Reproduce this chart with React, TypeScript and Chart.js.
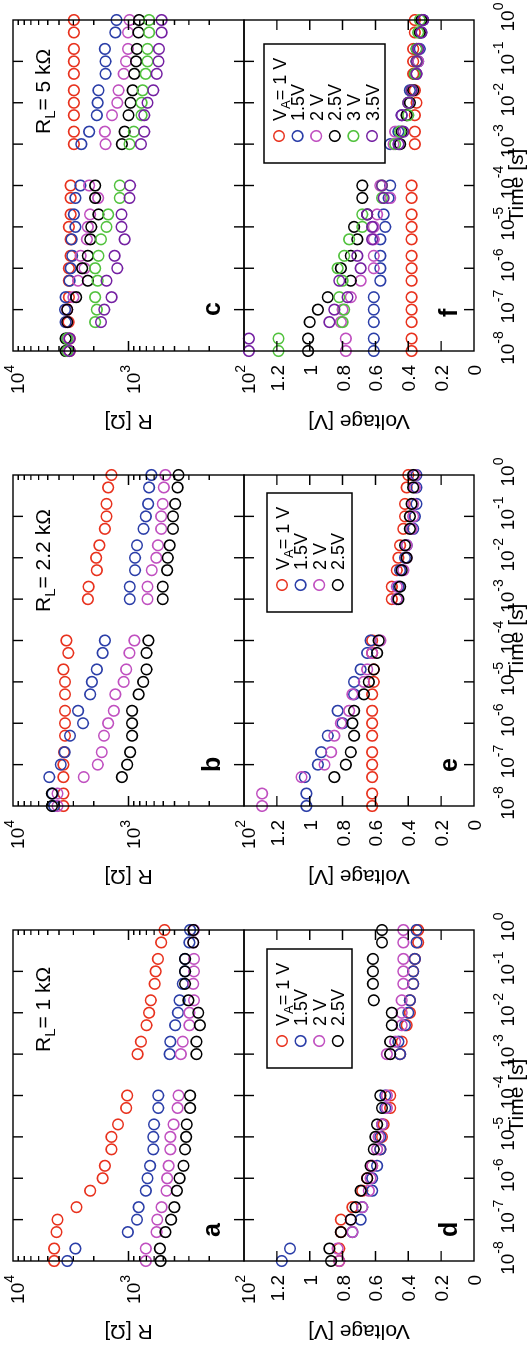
import React, { useEffect, useRef } from 'react';
import { Chart, registerables } from 'chart.js';

Chart.register(...registerables);

// ---------------- data ----------------
const TIMES = [
  1e-8, 2e-8, 5e-8, 1e-7, 2e-7, 5e-7, 1e-6, 2e-6, 5e-6, 1e-5, 2e-5, 5e-5, 1e-4,
  1e-3, 2e-3, 5e-3, 1e-2, 2e-2, 5e-2, 0.1, 0.2, 0.5, 1,
];
const TIME_TICK_EXPONENTS = [-8, -7, -6, -5, -4, -3, -2, -1, 0];
const R_TICK_EXPONENTS = [4, 3, 2];
const V_TICK_VALUES = [0, 0.2, 0.4, 0.6, 0.8, 1, 1.2];
const V_TICK_LABELS = ['0', '0.2', '0.4', '0.6', '0.8', '1', '1.2'];
const LEGEND_LABELS = ['1 V', '1.5V', '2 V', '2.5V', '3 V', '3.5V'];
const COLORS = ['#e8321e', '#2b3ea8', '#c050c0', '#000000', '#52c23e', '#7420a2'];

// panel a: R_L = 1 kOhm, resistance [Ohm]
const A_R_1V = [4400, 4400, 4200, 4120, 2820, 2145, 1675, 1600, 1405, 1405, 1233, 1047, 1026, 834, 780, 698, 663, 641, 593, 582, 556, 521, 488];
const A_R_15V = [3390, 2880, 1013, 844, 817, 708, 685, 650, 610, 610, 601, 552, 552, 440, 434, 394, 373, 361, 339, 324, 324, 297, 293];
const A_R_2V = [708, 708, 571, 564, 517, 469, 463, 449, 434, 434, 407, 376, 369, 352, 339, 297, 297, 271, 275, 271, 271, 275, 271];
const A_R_25V = [527, 535, 479, 428, 401, 381, 361, 334, 324, 317, 313, 293, 293, 258, 258, 241, 249, 303, 324, 324, 324, 275, 275];

// panel b: R_L = 2.2 kOhm
const B_R_1V = [3660, 3660, 3660, 3660, 3610, 3545, 3545, 3545, 3545, 3545, 3660, 3320, 3450, 2245, 2215, 1880, 1905, 1785, 1600, 1550, 1550, 1500, 1405];
const B_R_15V = [4400, 4540, 4850, 3860, 3570, 3210, 2475, 2730, 2145, 2075, 1880, 1675, 1600, 975, 975, 878, 878, 844, 741, 708, 676, 663, 633];
const B_R_2V = [4120, 4120, 2440, 1845, 1705, 1630, 1500, 1340, 1300, 1100, 1047, 981, 889, 685, 685, 629, 574, 556, 521, 521, 505, 494, 479];
const B_R_25V = [4600, 4600, 1140, 1026, 968, 931, 931, 931, 817, 746, 698, 698, 672, 505, 505, 463, 457, 440, 412, 412, 394, 376, 369];

// panel c: R_L = 5 kOhm
const C_R_1V = [3236, 3236, 3300, 3390, 3280, 3280, 3280, 3170, 3170, 3280, 3170, 3170, 3170, 2970, 2970, 2970, 2970, 2970, 2970, 2970, 2970, 2970, 2970];
const C_R_15V = [3390, 3390, 3500, 3540, 3500, 3236, 3170, 3070, 3110, 2880, 2970, 2880, 2610, 2560, 2190, 1880, 1850, 1820, 1580, 1580, 1600, 1300, 1270];
const C_R_2V = [3280, 3280, 3390, 3390, 3000, 2730, 2400, 2600, 2290, 2250, 2150, 1830, 2190, 1580, 1600, 1390, 1250, 1220, 1100, 1050, 1010, 1010, 980];
const C_R_25V = [3500, 3500, 3390, 3390, 2840, 2250, 2520, 2250, 2140, 2100, 1820, 1945, 1945, 1140, 1080, 1000, 960, 920, 890, 860, 845, 820, 810];
const C_R_3V = [3390, 3390, 1945, 1880, 1945, 1850, 1945, 1820, 1730, 1550, 1500, 1190, 1190, 980, 900, 770, 770, 755, 710, 685, 685, 663, 663];
const C_R_35V = [3236, 3236, 1730, 1620, 1400, 1550, 1250, 1320, 1080, 1150, 1150, 980, 970, 780, 730, 730, 685, 610, 570, 550, 545, 517, 517];

// panel d: voltage [V], R_L = 1 kOhm
const D_V_1V = [0.82, 0.82, 0.81, 0.81, 0.74, 0.68, 0.65, 0.62, 0.57, 0.56, 0.55, 0.51, 0.51, 0.45, 0.44, 0.41, 0.39, 0.39, 0.37, 0.37, 0.36, 0.34, 0.34];
const D_V_15V = [1.17, 1.12, 0.74, 0.69, 0.68, 0.62, 0.62, 0.59, 0.57, 0.57, 0.56, 0.54, 0.54, 0.45, 0.46, 0.42, 0.40, 0.39, 0.37, 0.37, 0.36, 0.35, 0.35];
const D_V_2V = [0.82, 0.83, 0.74, 0.75, 0.68, 0.64, 0.63, 0.62, 0.59, 0.58, 0.56, 0.53, 0.53, 0.53, 0.48, 0.44, 0.44, 0.44, 0.43, 0.43, 0.43, 0.43, 0.43];
const D_V_25V = [0.87, 0.88, 0.81, 0.75, 0.72, 0.69, 0.65, 0.63, 0.61, 0.60, 0.59, 0.56, 0.57, 0.51, 0.51, 0.50, 0.50, 0.61, 0.615, 0.615, 0.615, 0.56, 0.56];

// panel e: voltage [V], R_L = 2.2 kOhm
const E_V_1V = [0.62, 0.62, 0.62, 0.62, 0.62, 0.62, 0.62, 0.62, 0.62, 0.61, 0.61, 0.62, 0.62, 0.50, 0.50, 0.47, 0.46, 0.45, 0.43, 0.42, 0.42, 0.41, 0.40];
const E_V_15V = [1.02, 1.02, 1.03, 0.95, 0.93, 0.89, 0.80, 0.83, 0.73, 0.73, 0.69, 0.65, 0.63, 0.47, 0.46, 0.45, 0.42, 0.41, 0.37, 0.36, 0.35, 0.35, 0.35];
const E_V_2V = [1.29, 1.29, 1.05, 0.91, 0.87, 0.85, 0.81, 0.76, 0.74, 0.67, 0.65, 0.62, 0.57, 0.47, 0.47, 0.43, 0.41, 0.41, 0.38, 0.37, 0.37, 0.36, 0.36];
const E_V_25V = [null, null, 0.85, 0.78, 0.75, 0.73, 0.74, 0.73, 0.67, 0.64, 0.61, 0.59, 0.58, 0.46, 0.45, 0.44, 0.41, 0.42, 0.39, 0.39, 0.38, 0.37, 0.37];

// panel f: voltage [V], R_L = 5 kOhm
const F_V_1V = [0.38, 0.38, 0.38, 0.38, 0.38, 0.38, 0.38, 0.38, 0.38, 0.38, 0.38, 0.38, 0.38, 0.36, 0.36, 0.36, 0.35, 0.36, 0.37, 0.37, 0.37, 0.36, 0.36];
const F_V_15V = [0.61, 0.61, 0.61, 0.61, 0.61, 0.57, 0.57, 0.57, 0.57, 0.54, 0.55, 0.52, 0.51, 0.51, 0.46, 0.44, 0.40, 0.39, 0.35, 0.34, 0.33, 0.32, 0.31];
const F_V_2V = [0.78, 0.78, 0.81, 0.80, 0.75, 0.69, 0.61, 0.61, 0.61, 0.61, 0.59, 0.51, 0.57, 0.49, 0.48, 0.41, 0.40, 0.37, 0.35, 0.34, 0.34, 0.33, 0.32];
const F_V_25V = [1.01, 1.01, 1.00, 0.95, 0.89, 0.75, 0.81, 0.75, 0.71, 0.73, 0.65, 0.68, 0.68, 0.45, 0.44, 0.41, 0.39, 0.37, 0.36, 0.35, 0.35, 0.33, 0.32];
const F_V_3V = [1.19, 1.19, 0.80, 0.79, 0.82, 0.80, 0.83, 0.79, 0.76, 0.68, 0.68, 0.56, 0.56, 0.48, 0.45, 0.40, 0.40, 0.38, 0.36, 0.35, 0.35, 0.34, 0.33];
const F_V_35V = [1.37, 1.37, 0.88, 0.85, 0.77, 0.82, 0.69, 0.71, 0.62, 0.62, 0.65, 0.55, 0.56, 0.46, 0.43, 0.44, 0.40, 0.38, 0.35, 0.35, 0.34, 0.32, 0.31];

const LOAD_LABELS = ['1', '2.2', '5'];

// ---------------- layout (un-rotated figure, 1345 x 532) ----------------
const FIG_W = 1345;
const FIG_H = 532;
const COL_LEFT = [84, 539, 994];
const COL_W = 331;
const R_TOP = 13;
const MID = 244;
const V_BOTTOM = 474;
const FONT = '"Liberation Sans", Arial, Helvetica, sans-serif';

type Kind = 'R' | 'V';
interface Panel {
  key: string;
  kind: Kind;
  col: number;
  series: (number | null)[][];
  letterX: number;
  noteX?: number;
  legendBox?: [number, number, number, number];
}

const PANELS: Panel[] = [
  { key: 'a', kind: 'R', col: 0, series: [A_R_1V, A_R_15V, A_R_2V, A_R_25V], letterX: 108, noteX: 293 },
  { key: 'b', kind: 'R', col: 1, series: [B_R_1V, B_R_15V, B_R_2V, B_R_25V], letterX: 573, noteX: 733 },
  { key: 'c', kind: 'R', col: 2, series: [C_R_1V, C_R_15V, C_R_2V, C_R_25V, C_R_3V, C_R_35V], letterX: 1029, noteX: 1211 },
  { key: 'd', kind: 'V', col: 0, series: [D_V_1V, D_V_15V, D_V_2V, D_V_25V], letterX: 108, legendBox: [277, 267, 396, 352] },
  { key: 'e', kind: 'V', col: 1, series: [E_V_1V, E_V_15V, E_V_2V, E_V_25V], letterX: 573, legendBox: [733, 267, 852, 352] },
  { key: 'f', kind: 'V', col: 2, series: [F_V_1V, F_V_15V, F_V_2V, F_V_25V, F_V_3V, F_V_35V], letterX: 1028, legendBox: [1182, 264, 1301, 385] },
];

type Seg = { t: string; s?: 'sup' | 'sub' };

function drawRich(
  ctx: CanvasRenderingContext2D,
  segs: Seg[],
  x: number,
  y: number,
  align: 'left' | 'center' | 'right',
  size: number,
  small: number,
  supRaise: number,
  subDrop: number,
  bold = false,
) {
  const fontOf = (s: Seg) => `${bold ? 'bold ' : ''}${s.s ? small : size}px ${FONT}`;
  let total = 0;
  const widths = segs.map((s) => {
    ctx.font = fontOf(s);
    const w = ctx.measureText(s.t).width;
    total += w;
    return w;
  });
  let cx = align === 'left' ? x : align === 'right' ? x - total : x - total / 2;
  ctx.textAlign = 'left';
  ctx.textBaseline = 'alphabetic';
  segs.forEach((s, i) => {
    ctx.font = fontOf(s);
    const dy = s.s === 'sup' ? -supRaise : s.s === 'sub' ? subDrop : 0;
    ctx.fillText(s.t, cx, y + dy);
    cx += widths[i];
  });
}

const MAJOR = 10;
const MINOR = 5;
const TICK_FONT = 19;
const TICK_SMALL = 14;

function makeDecor(p: Panel) {
  return {
    id: 'decor',
    afterDatasetsDraw(chart: any) {
      const ctx: CanvasRenderingContext2D = chart.ctx;
      const { left, right, top, bottom } = chart.chartArea;
      const xs = chart.scales.x;
      const ys = chart.scales.y;
      ctx.save();
      ctx.strokeStyle = '#000';
      ctx.fillStyle = '#000';
      ctx.lineWidth = 1.4;
      ctx.beginPath();
      for (const e of TIME_TICK_EXPONENTS) {
        const px = xs.getPixelForValue(Math.pow(10, e));
        if (px <= left + 1 || px >= right - 1) continue;
        ctx.moveTo(px, top);
        ctx.lineTo(px, top + MAJOR);
        ctx.moveTo(px, bottom);
        ctx.lineTo(px, bottom - MAJOR);
      }
      if (p.kind === 'R') {
        for (let d = 2; d <= 3; d++) {
          for (let m = 1; m <= 9; m++) {
            const v = m * Math.pow(10, d);
            const py = ys.getPixelForValue(v);
            if (py <= top + 1 || py >= bottom - 1) continue;
            const len = m === 1 ? MAJOR : MINOR;
            ctx.moveTo(left, py);
            ctx.lineTo(left + len, py);
            ctx.moveTo(right, py);
            ctx.lineTo(right - len, py);
          }
        }
      } else {
        for (const v of V_TICK_VALUES) {
          const py = ys.getPixelForValue(v);
          if (py <= top + 1 || py >= bottom - 1) continue;
          ctx.moveTo(left, py);
          ctx.lineTo(left + MAJOR, py);
          ctx.moveTo(right, py);
          ctx.lineTo(right - MAJOR, py);
        }
      }
      ctx.stroke();
      ctx.strokeRect(left, top, right - left, bottom - top);

      // y tick labels
      const labX = left - 14;
      if (p.kind === 'R') {
        for (const e of R_TICK_EXPONENTS) {
          const py = ys.getPixelForValue(Math.pow(10, e));
          drawRich(ctx, [{ t: '10' }, { t: String(e), s: 'sup' }], labX, py + 11, 'right', TICK_FONT, TICK_SMALL, 10, 0);
        }
      } else {
        V_TICK_VALUES.forEach((v, i) => {
          const py = ys.getPixelForValue(v);
          drawRich(ctx, [{ t: V_TICK_LABELS[i] }], labX, py + 7, 'right', TICK_FONT, TICK_SMALL, 0, 0);
        });
        // time tick labels
        for (const e of TIME_TICK_EXPONENTS) {
          const px = xs.getPixelForValue(Math.pow(10, e));
          drawRich(ctx, [{ t: '10' }, { t: String(e), s: 'sup' }], px + 3, 514, 'center', TICK_FONT, TICK_SMALL, 11, 0);
        }
        ctx.font = `21px ${FONT}`;
        ctx.textAlign = 'center';
        ctx.textBaseline = 'alphabetic';
        ctx.fillText('Time [s]', (left + right) / 2, 523);
      }

      // y axis title (rotated)
      ctx.save();
      ctx.translate(left - 64, (top + bottom) / 2);
      ctx.rotate(-Math.PI / 2);
      ctx.font = `21px ${FONT}`;
      ctx.textAlign = 'center';
      ctx.textBaseline = 'alphabetic';
      ctx.fillText(p.kind === 'R' ? 'R [\u03A9]' : 'Voltage [V]', 0, 0);
      ctx.restore();

      // panel letter
      ctx.font = `bold 25px ${FONT}`;
      ctx.textAlign = 'left';
      ctx.fillText(p.key, p.letterX, p.kind === 'R' ? 220 : 457);

      // load resistance note
      if (p.noteX !== undefined) {
        drawRich(
          ctx,
          [{ t: 'R' }, { t: 'L', s: 'sub' }, { t: '= ' + LOAD_LABELS[p.col] + ' k\u03A9' }],
          p.noteX, 50, 'left', 21, 15, 0, 5,
        );
      }

      // legend
      if (p.legendBox) {
        const [x0, y0, x1, y1] = p.legendBox;
        ctx.lineWidth = 1.5;
        ctx.strokeRect(x0, y0, x1 - x0, y1 - y0);
        p.series.forEach((_, i) => {
          const ry = y0 + 15 + i * 18.6;
          ctx.beginPath();
          ctx.strokeStyle = COLORS[i];
          ctx.lineWidth = 1.6;
          ctx.arc(x0 + 27, ry, 5.3, 0, Math.PI * 2);
          ctx.stroke();
          ctx.fillStyle = '#000';
          const segs: Seg[] = i === 0
            ? [{ t: 'V' }, { t: 'A', s: 'sub' }, { t: '= ' + LEGEND_LABELS[0] }]
            : [{ t: LEGEND_LABELS[i] }];
          drawRich(ctx, segs, x0 + 42, ry + 6.5, 'left', 18, 13, 0, 4);
        });
      }
      ctx.restore();
    },
  };
}

function PanelChart({ panel }: { panel: Panel }) {
  const ref = useRef<HTMLCanvasElement>(null);
  useEffect(() => {
    const left = COL_LEFT[panel.col];
    const right = left + COL_W;
    const top = panel.kind === 'R' ? R_TOP : MID;
    const bottom = panel.kind === 'R' ? MID : V_BOTTOM;
    const n = panel.series.length;
    const chart = new Chart(ref.current as HTMLCanvasElement, {
      type: 'scatter',
      data: {
        datasets: panel.series.map((vals, i) => ({
          label: LEGEND_LABELS[i],
          data: TIMES.map((t, j) => ({ x: t, y: vals[j] })).filter((pt) => pt.y !== null) as any,
          pointBorderColor: COLORS[i],
          borderColor: COLORS[i],
          pointBackgroundColor: 'rgba(0,0,0,0)',
          backgroundColor: 'rgba(0,0,0,0)',
          pointRadius: 5.3,
          pointHoverRadius: 5.3,
          pointBorderWidth: 1.6,
          showLine: false,
          clip: false as any,
          order: n - i,
        })),
      },
      options: {
        responsive: false,
        animation: false,
        events: [],
        layout: { padding: { left, top, right: FIG_W - right, bottom: FIG_H - bottom } },
        scales: {
          x: { type: 'logarithmic', min: 1e-8, max: 1, display: false },
          y: panel.kind === 'R'
            ? { type: 'logarithmic', min: 100, max: 10000, display: false }
            : { type: 'linear', min: 0, max: 1.4, display: false },
        },
        plugins: { legend: { display: false }, tooltip: { enabled: false } },
      },
      plugins: [makeDecor(panel)],
    });
    return () => chart.destroy();
  }, [panel]);
  return (
    <canvas
      ref={ref}
      width={FIG_W}
      height={FIG_H}
      style={{ position: 'absolute', left: 0, top: 0, width: FIG_W, height: FIG_H }}
    />
  );
}

export default function App() {
  useEffect(() => {
    document.documentElement.style.overflow = 'hidden';
    document.body.style.overflow = 'hidden';
  }, []);
  return (
    <div
      style={{
        position: 'absolute',
        left: 0,
        top: 0,
        width: FIG_W,
        height: FIG_H,
        background: '#fff',
        transformOrigin: '0 0',
        transform: `translate(0px, ${FIG_W}px) rotate(-90deg)`,
      }}
    >
      {PANELS.map((p) => (
        <PanelChart key={p.key} panel={p} />
      ))}
    </div>
  );
}
